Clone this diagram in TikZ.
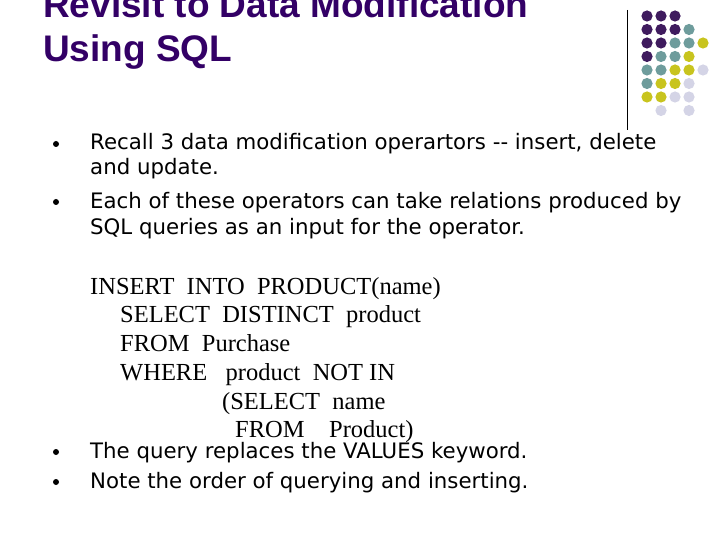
\documentclass[tikz,border=0pt]{standalone}
\usepackage{fontspec}
\setmainfont{DejaVu Sans}
\newfontfamily\titlefont{Liberation Sans}
\newfontfamily\codefont{Liberation Serif}
\definecolor{tpurple}{HTML}{330066}
\definecolor{dP}{HTML}{3F1B5E}
\definecolor{dT}{HTML}{6E9C9C}
\definecolor{dY}{HTML}{C8C41E}
\definecolor{dL}{HTML}{D4D4E6}
\begin{document}
\begin{tikzpicture}[x=1pt,y=-1pt,
  title/.style={anchor=base west,inner sep=0,font=\titlefont\bfseries\fontsize{37}{40}\selectfont,text=tpurple},
  body/.style={anchor=base west,inner sep=0,font=\fontsize{21.3}{25}\selectfont},
  code/.style={anchor=base west,inner sep=0,font=\codefont\fontsize{24.5}{28}\selectfont},
  bul/.style={circle,fill=black,inner sep=0,minimum size=6pt}]
\useasboundingbox (0,0) rectangle (720,540);
\node[title] (t1) at (43,18) {Revisit to Data Modification};
\node[title] (t2) at (43,62) {Using SQL};
\draw[black,line width=0.8pt] (627,10) -- (627,130);
\foreach \row [count=\r from 0] in {{P,P,P,N,N},{P,P,P,T,N},{P,P,T,T,Y},{P,T,T,Y,N},{T,T,Y,Y,L},{T,Y,Y,L,N},{Y,Y,L,L,N},{N,L,N,L,N}}{
  \foreach \c [count=\k from 0] in \row {
    \if N\c\else
      \fill[d\c] (647+\k*14, 16+\r*13.5) circle (5.6);
    \fi
  }
}
\node[bul] (b1) at (56,144) {};
\node[bul] (b2) at (56,202) {};
\node[bul] (b3) at (56,452) {};
\node[bul] (b4) at (56,482) {};
\node[body] (l1) at (90,150) {Recall 3 data modification operartors {-}{-} insert, delete};
\node[body] (l2) at (90,175) {and update.};
\node[body] (l3) at (90,208) {Each of these operators can take relations produced by};
\node[body] (l4) at (90,235) {SQL queries as an input for the operator.};
\node[code] (c1) at (90,294) {INSERT\ \ INTO\ \ PRODUCT(name)};
\node[code] (c2) at (120,322) {SELECT\ \ DISTINCT\ \ product};
\node[code] (c3) at (120,351) {FROM\ \ Purchase};
\node[code] (c4) at (120,380) {WHERE\ \ \ product\ \ NOT IN};
\node[code] (c5) at (222,409) {(SELECT\ \ name};
\node[code] (c6) at (235,437) {FROM\ \ \ \ Product)};
\node[body] (l5) at (90,458) {The query replaces the VALUES keyword.};
\node[body] (l6) at (90,488) {Note the order of querying and inserting.};
\end{tikzpicture}
\end{document}
